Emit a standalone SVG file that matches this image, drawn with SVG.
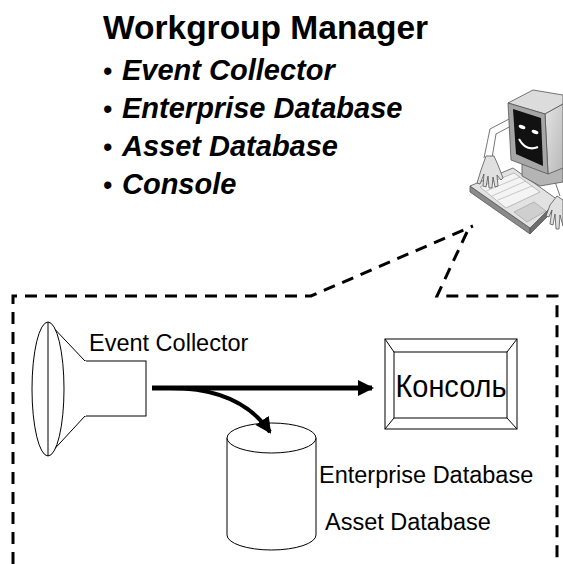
<svg xmlns="http://www.w3.org/2000/svg" width="563" height="564" viewBox="0 0 563 564">
  <defs>
    <style>
      .title { font-family: "Liberation Sans", Arial, sans-serif; font-weight: bold; font-size: 33.5px; fill: #000; }
      .bullet { font-family: "Liberation Sans", Arial, sans-serif; font-size: 27px; fill: #000; }
      .item { font-family: "Liberation Sans", Arial, sans-serif; font-weight: bold; font-style: italic; font-size: 29px; fill: #000; }
      .label { font-family: "Liberation Sans", Arial, sans-serif; font-size: 23.5px; fill: #000; }
      .shape { fill: #fff; stroke: #000; stroke-width: 1; }
      .dash { fill: none; stroke: #000; stroke-width: 3; stroke-dasharray: 12 8; }
      .flow { fill: none; stroke: #000; }
      .pc { stroke: #555; stroke-width: 0.8; stroke-linejoin: round; }
    </style>
    <marker id="head" viewBox="0 0 16 16" refX="14" refY="8" markerWidth="16" markerHeight="16" markerUnits="userSpaceOnUse" orient="auto">
      <path d="M0,0 L16,8 L0,16 Z" fill="#000"/>
    </marker>
    <linearGradient id="side" x1="0" y1="0" x2="1" y2="1">
      <stop offset="0" stop-color="#e4e4e4"/>
      <stop offset="1" stop-color="#b8b8b8"/>
    </linearGradient>
  </defs>

  <!-- heading and bullet list -->
  <g id="heading">
    <text class="title" x="103" y="39">Workgroup Manager</text>
    <text class="bullet" x="103" y="80">•</text>
    <text class="item" x="122" y="80">Event Collector</text>
    <text class="bullet" x="103" y="118">•</text>
    <text class="item" x="122" y="118">Enterprise Database</text>
    <text class="bullet" x="103" y="156">•</text>
    <text class="item" x="122" y="156">Asset Database</text>
    <text class="bullet" x="103" y="194">•</text>
    <text class="item" x="122" y="194">Console</text>
  </g>

  <!-- workstation clip art -->
  <g id="workstation">
    <!-- arms -->
    <path d="M511,118 L490,129 L484,158" fill="none" stroke="#777" stroke-width="1"/>
    <path d="M511,126 L496,134 L492,158" fill="none" stroke="#777" stroke-width="1"/>
    <path d="M553,176 L560,196" fill="none" stroke="#777" stroke-width="1"/>
    <!-- keyboard -->
    <polygon class="pc" points="470,186 470,192 530,234 530,228" fill="#8a8a8a"/>
    <polygon class="pc" points="530,228 530,234 558,206 558,200" fill="#6e6e6e"/>
    <polygon class="pc" points="470,186 513,168 558,200 530,228" fill="#e2e2e2"/>
    <polygon points="480,187 514,173 540,192 506,208" fill="#f4f4f4" stroke="#999" stroke-width="0.6"/>
    <path d="M486,191 L520,177 M492,196 L526,181 M498,200 L532,186" stroke="#aaa" stroke-width="0.6"/>
    <polygon points="514,212 534,202 546,211 527,222" fill="#cfcfcf" stroke="#999" stroke-width="0.6"/>
    <!-- monitor stand -->
    <polygon class="pc" points="522,164 550,158 563,168 563,182 540,186 522,176" fill="#b4b4b4"/>
    <!-- monitor body -->
    <polygon class="pc" points="508,103 533,90 563,95 563,104 545,114" fill="#dcdcdc"/>
    <polygon class="pc" points="545,114 563,104 563,168 548,174" fill="url(#side)"/>
    <polygon class="pc" points="508,103 545,114 548,174 511,160" fill="#a6a6a6"/>
    <polygon points="513,109 541,118 543,166 516,154" fill="#111"/>
    <!-- face -->
    <ellipse cx="522" cy="127" rx="3.5" ry="1.8" transform="rotate(20 522 127)" fill="#fff"/>
    <ellipse cx="535" cy="132" rx="3.5" ry="1.8" transform="rotate(20 535 132)" fill="#fff"/>
    <path d="M519,139 Q526,152 538,147" fill="none" stroke="#fff" stroke-width="2"/>
    <!-- hands -->
    <path class="pc" d="M486,156 L481,170 L477,183 L480,184 L484,174 L483,186 L486,187 L488,176 L489,188 L492,188 L493,177 L495,187 L498,186 L497,175 L501,180 L503,178 L498,165 L494,156 Z" fill="#e0e0e0"/>
    <path class="pc" d="M557,196 L550,205 L546,216 L549,217 L552,210 L550,224 L553,225 L555,214 L556,229 L559,229 L560,215 L563,226 L563,200 Z" fill="#e0e0e0"/>
  </g>

  <!-- dashed enclosure and callout lines -->
  <g id="enclosure">
    <path class="dash" d="M13,564 L13,296 L311,296 L473,226"/>
    <path class="dash" d="M467,232 L437,296 L557,296 L557,564"/>
  </g>

  <!-- Event Collector funnel -->
  <g id="event-collector">
    <rect class="shape" x="85" y="361" width="61" height="55"/>
    <polygon class="shape" points="48,322 85,361 85,416 48,456"/>
    <line x1="85" y1="361" x2="85" y2="416" stroke="#fff" stroke-width="2"/>
    <ellipse class="shape" cx="48" cy="389" rx="16" ry="67"/>
    <line x1="48" y1="322" x2="48" y2="456" stroke="#000" stroke-width="1"/>
    <text class="label" x="89" y="351">Event Collector</text>
  </g>

  <!-- Console -->
  <g id="console">
    <rect class="shape" x="385" y="339" width="132" height="90"/>
    <rect class="shape" x="394" y="352" width="113" height="66"/>
    <path d="M385,339 L394,352 M517,339 L507,352 M385,429 L394,418 M517,429 L507,418" stroke="#000" stroke-width="1"/>
    <text x="451" y="397" text-anchor="middle" textLength="111" lengthAdjust="spacingAndGlyphs" style="font-family: 'Liberation Sans', Arial, sans-serif; font-size: 32px;">Консоль</text>
  </g>

  <!-- database cylinder -->
  <g id="database">
    <path class="shape" d="M227,438 L227,535 A44.5,15 0 0 0 316,535 L316,438"/>
    <ellipse class="shape" cx="271.5" cy="438" rx="44.5" ry="15"/>
    <text class="label" x="319" y="483">Enterprise Database</text>
    <text class="label" x="325" y="530">Asset Database</text>
  </g>

  <!-- connectors -->
  <g id="connectors">
    <path class="flow" d="M152,388 L372,388" stroke-width="5" marker-end="url(#head)"/>
    <path class="flow" d="M170,388 Q240,388 270,432" stroke-width="4" marker-end="url(#head)"/>
  </g>
</svg>
